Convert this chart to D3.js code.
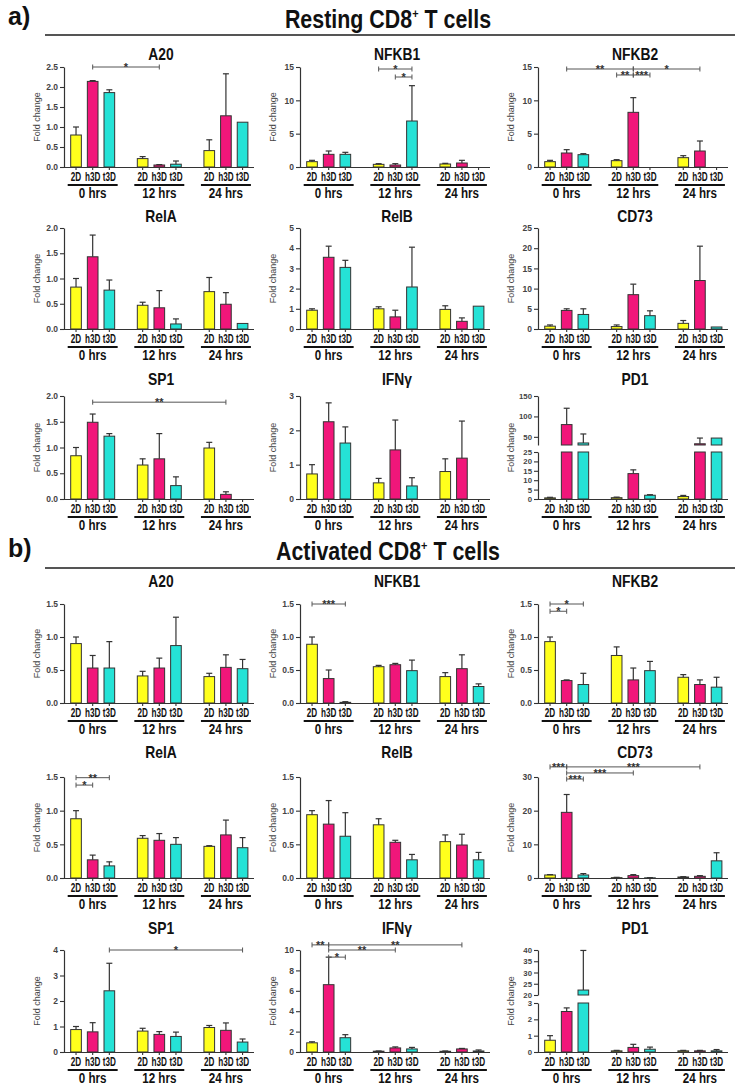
<!DOCTYPE html>
<html><head><meta charset="utf-8">
<script src="https://cdn.jsdelivr.net/npm/d3@7"></script>
<style>body{margin:0;background:#fff}svg{display:block}</style>
</head><body>
<svg id="chart" width="735" height="1086"></svg>
<script>
// ---------- categories ----------
const groups = ["0 hrs", "12 hrs", "24 hrs"];
const conditions = ["2D", "h3D", "t3D"];
const colors = ["#ffff1c", "#f1167a", "#25e2d6"];

// ---------- tick labels ----------
const ticks25 = [0, 0.5, 1.0, 1.5, 2.0, 2.5];
const ticks20 = [0, 0.5, 1.0, 1.5, 2.0];
const ticks15 = [0, 0.5, 1.0, 1.5];
const ticks0to15 = [0, 5, 10, 15];
const ticks0to5 = [0, 1, 2, 3, 4, 5];
const ticks0to25 = [0, 5, 10, 15, 20, 25];
const ticks0to3 = [0, 1, 2, 3];
const ticks0to30 = [0, 10, 20, 30];
const ticks0to4 = [0, 1, 2, 3, 4];
const ticks0to10 = [0, 2, 4, 6, 8, 10];
const ticksPD1restLow = [0, 5, 10, 15, 20, 25];
const ticksPD1restUp = [50, 100, 150];
const ticksPD1actLow = [0, 1, 2, 3];
const ticksPD1actUp = [20, 25, 30, 35, 40];

// ---------- Resting CD8+ T cells (order: 0h 2D,h3D,t3D | 12h ... | 24h ...) ----------
const restA20    = [0.80, 2.14, 1.86, 0.21, 0.05, 0.07, 0.41, 1.28, 1.12];
const restA20Hi  = [1.00, 2.16, 1.93, 0.26, 0.06, 0.15, 0.68, 2.33, null];
const restNFKB1   = [0.8, 1.9, 1.9, 0.4, 0.3, 6.9, 0.45, 0.6, 0];
const restNFKB1Hi = [1.0, 2.4, 2.2, 0.5, 0.5, 12.2, 0.55, 1.0, null];
const restNFKB2   = [0.8, 2.1, 1.85, 0.95, 8.2, 0, 1.4, 2.4, 0];
const restNFKB2Hi = [1.0, 2.6, 2.0, 1.1, 10.4, null, 1.7, 3.9, null];
const restRelA   = [0.83, 1.43, 0.77, 0.47, 0.42, 0.10, 0.74, 0.49, 0.11];
const restRelAHi = [1.00, 1.86, 0.97, 0.53, 0.76, 0.20, 1.02, 0.72, null];
const restRelB   = [0.93, 3.55, 3.05, 1.0, 0.6, 2.08, 0.97, 0.38, 1.13];
const restRelBHi = [1.0, 4.1, 3.4, 1.1, 0.93, 4.05, 1.15, 0.55, null];
const restCD73   = [0.7, 4.6, 3.6, 0.6, 8.5, 3.3, 1.4, 12.0, 0.5];
const restCD73Hi = [1.0, 5.0, 5.0, 1.0, 11.1, 4.5, 2.1, 20.5, null];
const restSP1    = [0.84, 1.49, 1.22, 0.66, 0.78, 0.26, 0.99, 0.09, 0];
const restSP1Hi  = [1.00, 1.65, 1.27, 0.78, 1.27, 0.43, 1.10, 0.14, null];
const restIFNG   = [0.73, 2.25, 1.63, 0.47, 1.43, 0.38, 0.80, 1.19, 0];
const restIFNGHi = [1.00, 2.80, 2.10, 0.60, 2.30, 0.62, 1.17, 2.27, null];
const restPD1    = [0.6, 80, 35, 0.7, 13.5, 2.0, 1.3, 33, 47];
const restPD1Hi  = [0.9, 120, 57, 1.0, 15.5, 2.3, 1.9, 47, null];

// ---------- Activated CD8+ T cells ----------
const actA20    = [0.90, 0.53, 0.53, 0.41, 0.53, 0.87, 0.40, 0.54, 0.52];
const actA20Hi  = [1.00, 0.72, 0.93, 0.48, 0.68, 1.30, 0.45, 0.73, 0.66];
const actNFKB1   = [0.89, 0.37, 0.01, 0.55, 0.58, 0.49, 0.40, 0.52, 0.25];
const actNFKB1Hi = [1.00, 0.50, 0.02, 0.57, 0.60, 0.65, 0.46, 0.73, 0.29];
const actNFKB2   = [0.93, 0.34, 0.28, 0.72, 0.35, 0.49, 0.39, 0.28, 0.24];
const actNFKB2Hi = [1.00, 0.35, 0.45, 0.85, 0.53, 0.63, 0.43, 0.35, 0.39];
const actRelA   = [0.88, 0.27, 0.18, 0.59, 0.56, 0.50, 0.47, 0.64, 0.45];
const actRelAHi = [1.00, 0.34, 0.24, 0.63, 0.66, 0.60, 0.48, 0.86, 0.60];
const actRelB   = [0.94, 0.80, 0.62, 0.79, 0.53, 0.27, 0.54, 0.49, 0.27];
const actRelBHi = [1.00, 1.15, 0.97, 0.88, 0.56, 0.35, 0.64, 0.65, 0.38];
const actCD73   = [0.9, 19.5, 0.9, 0.1, 0.7, 0.05, 0.3, 0.5, 5.1];
const actCD73Hi = [1.0, 24.8, 1.3, 0.2, 1.0, 0.1, 0.4, 0.7, 7.5];
const actSP1    = [0.88, 0.79, 2.40, 0.82, 0.69, 0.61, 0.96, 0.85, 0.39];
const actSP1Hi  = [1.00, 1.15, 3.48, 0.93, 0.80, 0.78, 1.04, 1.14, 0.51];
const actIFNG   = [0.9, 6.6, 1.4, 0.08, 0.4, 0.3, 0.07, 0.3, 0.1];
const actIFNGHi = [1.0, 9.3, 1.7, 0.10, 0.5, 0.45, 0.10, 0.35, 0.2];
const actPD1    = [0.72, 2.48, 22.2, 0.07, 0.28, 0.17, 0.07, 0.07, 0.07];
const actPD1Hi  = [1.00, 2.70, 39.8, 0.10, 0.47, 0.30, 0.10, 0.10, 0.15];

// ---------- significance brackets: [fromBar, toBar, level (axis units), label] ----------
const restA20Sig   = [[1, 4, 2.5, "*"]];
const restNFKB1Sig = [[3, 5, 14.7, "*"], [4, 5, 13.5, "*"]];
const restNFKB2Sig = [[1, 4, 14.7, "**"], [4, 7, 14.7, "*"], [3, 4, 13.8, "**"], [4, 5, 13.8, "***"]];
const restSP1Sig   = [[1, 7, 1.88, "**"]];
const actNFKB1Sig  = [[0, 2, 1.5, "***"]];
const actNFKB2Sig  = [[0, 2, 1.5, "*"], [0, 1, 1.39, "*"]];
const actRelASig   = [[0, 2, 1.49, "**"], [0, 1, 1.38, "*"]];
const actCD73Sig   = [[0, 1, 33, "***"], [1, 7, 33, "***"], [1, 4, 31.2, "***"], [1, 2, 29.4, "***"]];
const actSP1Sig    = [[2, 8, 4.0, "*"]];
const actIFNGSig   = [[0, 1, 10.5, "**"], [1, 7, 10.5, "**"], [1, 4, 10.0, "**"], [1, 2, 9.3, "*"]];

// ---------- layout ----------
const colX = [64, 300, 538];
const rows = {
  a: [{base: 167, top: 67, title: 60}, {base: 329, top: 228, title: 222}, {base: 499, top: 396, title: 385}],
  b: [{base: 703, top: 604, title: 587}, {base: 878, top: 777, title: 758}, {base: 1052, top: 950, title: 934}]
};
const headers = [
  {label: "a)", title: "Resting CD8", y: 28, line: 35},
  {label: "b)", title: "Activated CD8", y: 560, line: 568}
];

const panels = [
  {sec: "a", row: 0, col: 0, title: "A20", v: restA20, hi: restA20Hi, ticks: ticks25, fmt: ".1f", sig: restA20Sig},
  {sec: "a", row: 0, col: 1, title: "NFKB1", v: restNFKB1, hi: restNFKB1Hi, ticks: ticks0to15, fmt: "d", sig: restNFKB1Sig},
  {sec: "a", row: 0, col: 2, title: "NFKB2", v: restNFKB2, hi: restNFKB2Hi, ticks: ticks0to15, fmt: "d", sig: restNFKB2Sig},
  {sec: "a", row: 1, col: 0, title: "RelA", v: restRelA, hi: restRelAHi, ticks: ticks20, fmt: ".1f", sig: []},
  {sec: "a", row: 1, col: 1, title: "RelB", v: restRelB, hi: restRelBHi, ticks: ticks0to5, fmt: "d", sig: []},
  {sec: "a", row: 1, col: 2, title: "CD73", v: restCD73, hi: restCD73Hi, ticks: ticks0to25, fmt: "d", sig: []},
  {sec: "a", row: 2, col: 0, title: "SP1", v: restSP1, hi: restSP1Hi, ticks: ticks20, fmt: ".1f", sig: restSP1Sig},
  {sec: "a", row: 2, col: 1, title: "IFNγ", v: restIFNG, hi: restIFNGHi, ticks: ticks0to3, fmt: "d", sig: []},
  {sec: "a", row: 2, col: 2, title: "PD1", v: restPD1, hi: restPD1Hi, broken: {low: ticksPD1restLow, up: ticksPD1restUp, upMin: 30, lowPx: 47, gap: 7}, fmt: "d", sig: []},
  {sec: "b", row: 0, col: 0, title: "A20", v: actA20, hi: actA20Hi, ticks: ticks15, fmt: ".1f", sig: []},
  {sec: "b", row: 0, col: 1, title: "NFKB1", v: actNFKB1, hi: actNFKB1Hi, ticks: ticks15, fmt: ".1f", sig: actNFKB1Sig},
  {sec: "b", row: 0, col: 2, title: "NFKB2", v: actNFKB2, hi: actNFKB2Hi, ticks: ticks15, fmt: ".1f", sig: actNFKB2Sig},
  {sec: "b", row: 1, col: 0, title: "RelA", v: actRelA, hi: actRelAHi, ticks: ticks15, fmt: ".1f", sig: actRelASig},
  {sec: "b", row: 1, col: 1, title: "RelB", v: actRelB, hi: actRelBHi, ticks: ticks15, fmt: ".1f", sig: []},
  {sec: "b", row: 1, col: 2, title: "CD73", v: actCD73, hi: actCD73Hi, ticks: ticks0to30, fmt: "d", sig: actCD73Sig},
  {sec: "b", row: 2, col: 0, title: "SP1", v: actSP1, hi: actSP1Hi, ticks: ticks0to4, fmt: "d", sig: actSP1Sig},
  {sec: "b", row: 2, col: 1, title: "IFNγ", v: actIFNG, hi: actIFNGHi, ticks: ticks0to10, fmt: "d", sig: actIFNGSig},
  {sec: "b", row: 2, col: 2, title: "PD1", v: actPD1, hi: actPD1Hi, broken: {low: ticksPD1actLow, up: ticksPD1actUp, upMin: 20, lowPx: 49, gap: 8}, fmt: "d", sig: []}
];

const SANS = "'Liberation Sans',Arial,sans-serif";
const svg = d3.select("#chart");

// condensed bold text (Arial-Narrow look) via horizontal scaling
function narrow(parent, x, y, txt, size, sx, anchor) {
  return parent.append("text")
    .attr("transform", `translate(${x},${y}) scale(${sx},1)`)
    .attr("text-anchor", anchor || "middle")
    .attr("font-family", SANS).attr("font-weight", "bold")
    .attr("font-size", size).attr("fill", "#111").text(txt);
}

// headers
headers.forEach(h => {
  svg.append("text").attr("x", 8).attr("y", h.y - 3).text(h.label)
    .attr("font-family", SANS).attr("font-weight", "bold").attr("font-size", 25).attr("fill", "#111");
  const t = narrow(svg, 388, h.y, null, 25.5, 0.84);
  t.append("tspan").text(h.title);
  t.append("tspan").text("+").attr("font-size", 13).attr("dy", -10);
  t.append("tspan").text(" T cells").attr("dy", 10);
  svg.append("line").attr("x1", 45).attr("x2", 735).attr("y1", h.line).attr("y2", h.line)
    .attr("stroke", "#555").attr("stroke-width", 2);
});

// slot domain with spacer slots between time groups
const slots = [];
groups.forEach((g, gi) => {
  conditions.forEach(c => slots.push(g + "|" + c));
  if (gi < groups.length - 1) slots.push("gap" + gi);
});
const barKeys = slots.filter(s => !s.startsWith("gap"));

function styleAxis(sel) {
  sel.select(".domain").attr("stroke", "#333").attr("stroke-width", 1.2);
  sel.selectAll(".tick line").attr("stroke", "#333").attr("stroke-width", 1.1);
  sel.selectAll(".tick text").attr("font-family", SANS).attr("font-weight", "bold")
    .attr("font-size", 8.5).attr("fill", "#444");
}

function drawPanel(p) {
  const x0 = colX[p.col];
  const R = rows[p.sec][p.row];
  const g = svg.append("g");
  const x = d3.scaleBand().domain(slots).range([x0 + 3.7, x0 + 186.9]).paddingInner(0.36).paddingOuter(0.18);
  const bw = x.bandwidth();
  const cx = i => x(barKeys[i]) + bw / 2;
  const fmt = d3.format(p.fmt);

  // y scales
  let yOf, segs;
  if (p.broken) {
    const b = p.broken;
    const lowMax = d3.max(b.low), upMax = d3.max(b.up);
    const yl = d3.scaleLinear().domain([0, lowMax]).range([R.base, R.base - b.lowPx]);
    const yu = d3.scaleLinear().domain([b.upMin, upMax]).range([R.base - b.lowPx - b.gap, R.top]);
    segs = [{s: yl, ticks: b.low, lo: 0, hi: lowMax}, {s: yu, ticks: b.up, lo: b.upMin, hi: upMax}];
    yOf = v => v <= lowMax ? yl(v) : yu(Math.max(v, b.upMin));
  } else {
    const ys = d3.scaleLinear().domain([0, d3.max(p.ticks)]).range([R.base, R.top]);
    segs = [{s: ys, ticks: p.ticks, lo: 0, hi: d3.max(p.ticks)}];
    yOf = ys;
  }

  // y axes
  segs.forEach(sg => {
    const ax = g.append("g").attr("transform", `translate(${x0},0)`)
      .call(d3.axisLeft(sg.s).tickValues(sg.ticks).tickSize(4).tickSizeOuter(0).tickPadding(2)
        .tickFormat(d => d === 0 ? (p.fmt === ".1f" ? "0.0" : "0") : fmt(d)));
    styleAxis(ax);
    if (p.broken) ax.selectAll(".tick text").attr("font-size", 7.8);
  });

  // bars
  p.v.forEach((v, i) => {
    const col = colors[i % 3];
    segs.forEach(sg => {
      if (v <= sg.lo && sg.lo > 0) return;
      const top = Math.min(v, sg.hi);
      g.append("rect").attr("x", x(barKeys[i])).attr("width", bw)
        .attr("y", sg.s(top)).attr("height", Math.max(0, sg.s(sg.lo) - sg.s(top)))
        .attr("fill", col).attr("stroke", "#333").attr("stroke-width", 1);
    });
    const h = p.hi[i];
    if (h != null && h > v) {
      const xc = cx(i);
      g.append("line").attr("x1", xc).attr("x2", xc).attr("y1", yOf(v)).attr("y2", yOf(h))
        .attr("stroke", "#333").attr("stroke-width", 1.2);
      g.append("line").attr("x1", xc - 3).attr("x2", xc + 3).attr("y1", yOf(h)).attr("y2", yOf(h))
        .attr("stroke", "#333").attr("stroke-width", 1.2);
    }
  });

  // x axis
  const xa = g.append("g").attr("transform", `translate(0,${R.base})`)
    .call(d3.axisBottom(x).tickValues(barKeys).tickSize(3).tickSizeOuter(0).tickFormat(""));
  xa.select(".domain").attr("d", `M${x0},0.5H${x0 + 190}`);
  styleAxis(xa);

  // condition labels
  barKeys.forEach((k, i) => narrow(g, cx(i), R.base + 14, conditions[i % 3], 12, 0.68));
  // group underline + label
  groups.forEach((gr, gi) => {
    const a = x(barKeys[gi * 3]) - 3, b = x(barKeys[gi * 3 + 2]) + bw + 3;
    g.append("line").attr("x1", a).attr("x2", b).attr("y1", R.base + 18).attr("y2", R.base + 18)
      .attr("stroke", "#111").attr("stroke-width", 2);
    narrow(g, (a + b) / 2, R.base + 31, gr, 14.5, 0.8);
  });

  // y label
  g.append("text").attr("transform", `translate(${x0 - 24},${(R.base + R.top) / 2}) rotate(-90)`)
    .attr("text-anchor", "middle").text("Fold change")
    .attr("font-family", SANS).attr("font-size", 9).attr("fill", "#444");

  // title
  narrow(g, x0 + 97, R.title, p.title, 16.5, 0.84);

  // significance brackets
  p.sig.forEach(([i, j, lvl, lab]) => {
    const xa1 = cx(i), xb1 = cx(j), yy = yOf(lvl);
    g.append("line").attr("x1", xa1).attr("x2", xb1).attr("y1", yy).attr("y2", yy)
      .attr("stroke", "#555").attr("stroke-width", 1);
    [xa1, xb1].forEach(xx => g.append("line").attr("x1", xx).attr("x2", xx)
      .attr("y1", yy - 2.5).attr("y2", yy + 2.5).attr("stroke", "#555").attr("stroke-width", 1));
    g.append("text").attr("x", (xa1 + xb1) / 2).attr("y", yy + 4).attr("text-anchor", "middle").text(lab)
      .attr("font-family", SANS).attr("font-weight", "bold").attr("font-size", 11).attr("fill", "#333");
  });
}

panels.forEach(drawPanel);
</script>
</body></html>
